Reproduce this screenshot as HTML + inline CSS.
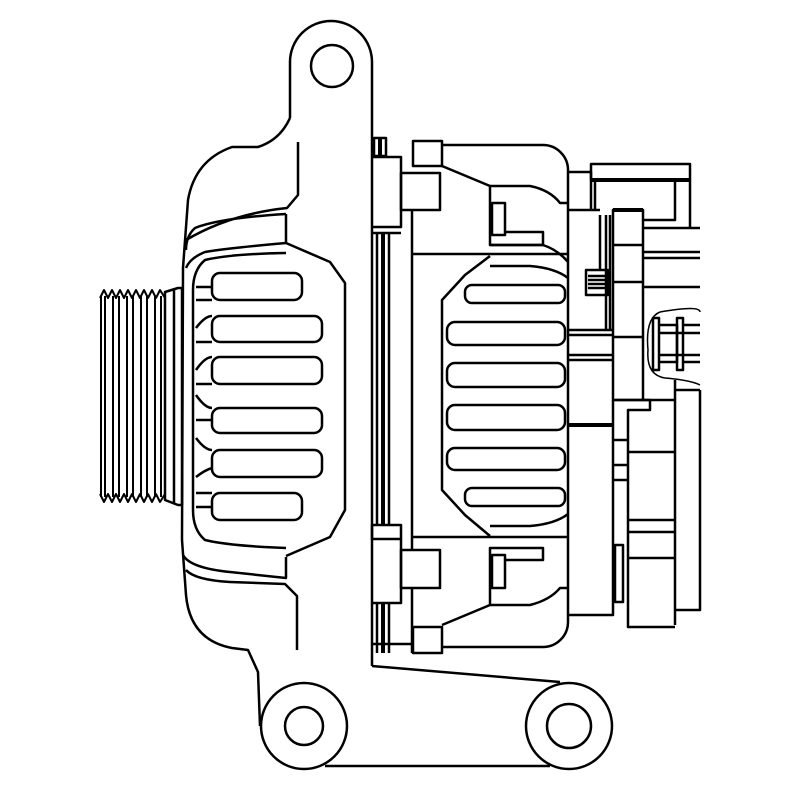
<!DOCTYPE html>
<html><head><meta charset="utf-8"><style>
html,body{margin:0;padding:0;background:#fff;}
svg{display:block;}
</style></head><body>
<svg width="800" height="800" viewBox="0 0 800 800" xmlns="http://www.w3.org/2000/svg">
<g fill="none" stroke="#000" stroke-width="2.5" stroke-linejoin="round">
<!-- top ear -->
<path d="M290 118 L290 62 A41 41 0 0 1 372 62 L372 138"/>
<circle cx="332" cy="66" r="21"/>
<!-- main left housing outline -->
<path d="M290 118 Q280 140 258 147 L232 147 Q195 160 188 200 L183 268 L182 540 L186 595 Q190 640 232 648 L248 650 L258 672 L260 726"/>
<path d="M298 142 L298 195 L287 208 Q230 214 186 240"/>
<path d="M286 214 Q220 218 195 228 Q186 236 186 250"/>
<path d="M286 214 L286 243 Q230 248 205 252 Q190 258 186 268"/>
<path d="M286 243 L330 262 L345 283 L345 510 L330 537 L286 556"/>
<path d="M286 253 Q230 254 205 260 Q193 270 193 290 L193 510 Q193 530 205 540 Q230 546 286 548"/>
<!-- lower left housing lines -->
<path d="M183 555 Q190 568 230 572 L286 578 L286 557"/>
<path d="M186 570 Q195 580 230 582 L285 584 L297 596 L297 650"/>
<!-- pulley -->
<path d="M165 292 L178 288 L182 288 L182 505 L178 505 L165 500 Z"/>
<line x1="174" y1="290" x2="174" y2="503"/>
<g stroke-width="2">
<path d="M100 298 L104 290 L108 298 L112 290 L116 298 L120 290 L124 298 L128 290 L132 298 L136 290 L140 298 L144 290 L148 298 L152 290 L156 298 L160 290 L165 298"/>
<path d="M100 494 L104 502 L108 494 L112 502 L116 494 L120 502 L124 494 L128 502 L132 494 L136 502 L140 494 L144 502 L148 494 L152 502 L156 494 L160 502 L165 494"/>
<line x1="101" y1="296" x2="101" y2="497"/><line x1="105" y1="296" x2="105" y2="497"/>
<line x1="113" y1="296" x2="113" y2="497"/><line x1="119" y1="296" x2="119" y2="497"/>
<line x1="127" y1="296" x2="127" y2="497"/><line x1="133" y1="296" x2="133" y2="497"/>
<line x1="141" y1="296" x2="141" y2="497"/><line x1="147" y1="296" x2="147" y2="497"/>
<line x1="155" y1="296" x2="155" y2="497"/><line x1="161" y1="296" x2="161" y2="497"/>
</g>
<!-- left fins -->
<rect x="212" y="273" width="90" height="27" rx="8"/>
<rect x="212" y="316" width="110" height="26" rx="8"/>
<rect x="212" y="357" width="110" height="27" rx="8"/>
<rect x="212" y="408" width="110" height="25" rx="8"/>
<rect x="212" y="450" width="110" height="27" rx="8"/>
<rect x="212" y="493" width="90" height="27" rx="8"/>
<path d="M196 287 L212 287 M196 300 L212 300 M196 328 Q205 316 212 316 M196 342 L212 342 M196 370 Q205 357 212 357 M196 384 L212 384 M196 395 Q205 408 212 408 M196 420 L212 420 M196 438 Q205 450 212 450 M196 477 Q205 470 212 468 M196 493 L212 493 M196 507 L212 507"/>
<!-- stator stripes -->
<path d="M372 138 L372 666"/>
<rect x="374" y="138" width="12" height="18"/>
<line x1="380" y1="138" x2="380" y2="156" stroke-width="4"/>
<path d="M372 157 L401 157 L401 227 L372 227 M372 233 L401 233"/>
<line x1="377" y1="233" x2="377" y2="525"/><line x1="383" y1="233" x2="383" y2="525" stroke-width="4"/><line x1="389" y1="233" x2="389" y2="525"/>
<rect x="372" y="525" width="29" height="14"/>
<path d="M401 539 L401 603 L372 603"/>
<line x1="377" y1="603" x2="377" y2="653"/><line x1="383" y1="603" x2="383" y2="653" stroke-width="4"/><line x1="389" y1="603" x2="389" y2="653"/>
<line x1="372" y1="644" x2="412" y2="644"/>
<!-- rear housing -->
<rect x="413" y="141" width="29" height="25"/>
<path d="M442 145 L543 145 A25 25 0 0 1 568 170 L568 622 A25 25 0 0 1 543 647 L442 647"/>
<rect x="401" y="173" width="39" height="37"/>
<line x1="412" y1="210" x2="412" y2="550"/>
<line x1="412" y1="588" x2="412" y2="653"/>
<rect x="401" y="550" width="39" height="38"/>
<rect x="413" y="627" width="29" height="26"/>
<path d="M442 166 L490 186 L490 245 L543 245 L543 232 L505 232"/>
<rect x="492" y="203" width="13" height="32"/>
<path d="M490 186 L530 186 Q550 190 560 203 L568 203"/>
<path d="M490 245 L543 245 Q558 250 568 262"/>
<line x1="412" y1="254" x2="568" y2="254"/>
<path d="M442 625 L490 605 L490 548 L543 548 L543 560 L505 560"/>
<rect x="492" y="555" width="13" height="33"/>
<path d="M490 605 L530 605 Q550 600 560 588 L568 588"/>
<line x1="412" y1="537" x2="568" y2="537"/>
<!-- right fins outline -->
<path d="M490 256 L465 275 L442 300 L442 490 L465 515 L490 536"/>
<path d="M490 266 L530 266 Q555 268 568 278"/>
<path d="M490 526 L530 526 Q555 524 568 514"/>
<rect x="465" y="285" width="100" height="18" rx="7"/>
<rect x="447" y="322" width="118" height="23" rx="8"/>
<rect x="447" y="363" width="118" height="24" rx="8"/>
<rect x="447" y="405" width="118" height="25" rx="8"/>
<rect x="447" y="448" width="118" height="22" rx="8"/>
<rect x="465" y="488" width="100" height="18" rx="7"/>
<!-- bottom bracket -->
<path d="M372 666 L560 682"/>
<circle cx="304" cy="726" r="43"/>
<circle cx="304" cy="726" r="19"/>
<circle cx="569" cy="726" r="43"/>
<circle cx="569" cy="726" r="22"/>
<line x1="325" y1="766" x2="550" y2="766"/>
<!-- right components -->
<rect x="591" y="164" width="99" height="16"/>
<line x1="591" y1="180" x2="690" y2="180" stroke-width="4"/>
<path d="M690 180 L690 228 M675 180 L675 220 L643 220 M568 172 L591 172 L591 210"/>
<path d="M595 180 L595 210 M568 210 L600 210"/>
<path d="M613 210 L643 210 L643 400 L613 400 Z"/>
<line x1="613" y1="210" x2="643" y2="210" stroke-width="4"/>
<line x1="613" y1="245" x2="643" y2="245"/><line x1="613" y1="282" x2="643" y2="282"/>
<line x1="613" y1="337" x2="643" y2="337"/>
<path d="M643 228 L700 228 M643 252 L700 252 M643 258 L700 258 M643 287 L700 287"/>
<path d="M600 215 L600 270 M606 215 L606 330 M610 215 L610 330"/>
<rect x="586" y="270" width="22" height="25"/>
<path d="M588 276 L606 276 M588 280 L606 280 M588 284 L606 284 M588 288 L606 288"/>
<path d="M568 330 L613 330 M568 335 L613 335 M568 355 L613 355 M568 360 L613 360"/>
<line x1="568" y1="425" x2="613" y2="425" stroke-width="4"/>
<path d="M643 400 L675 400 L675 625 M613 400 L613 615 L568 615"/>
<path d="M643 400 L650 400 L650 410 L628 410 L628 627 L675 627"/>
<path d="M613 440 L628 440 M613 465 L628 465 M613 480 L628 480"/>
<path d="M628 452 L675 452 M628 520 L675 520 M628 532 L675 532 M628 558 L675 558"/>
<rect x="615" y="545" width="8" height="57"/>
<path d="M675 380 L675 400 M675 390 L700 390 M700 390 L700 610 L675 610"/>
<!-- nut -->
<path d="M660 312 Q700 305 700 312" stroke-width="1.5"/>
<path d="M660 312 Q645 318 648 350 Q646 375 665 378 Q690 380 700 385" stroke-width="1.5"/>
<rect x="653" y="318" width="6" height="52"/>
<rect x="677" y="318" width="6" height="52"/>
<path d="M659 325 L677 325 L677 362 L659 362 M683 325 L700 325 M683 362 L700 362 M659 333 L700 333 M659 355 L700 355"/>
<line x1="615" y1="400" x2="643" y2="400"/>
</g>
</svg>
</body></html>
